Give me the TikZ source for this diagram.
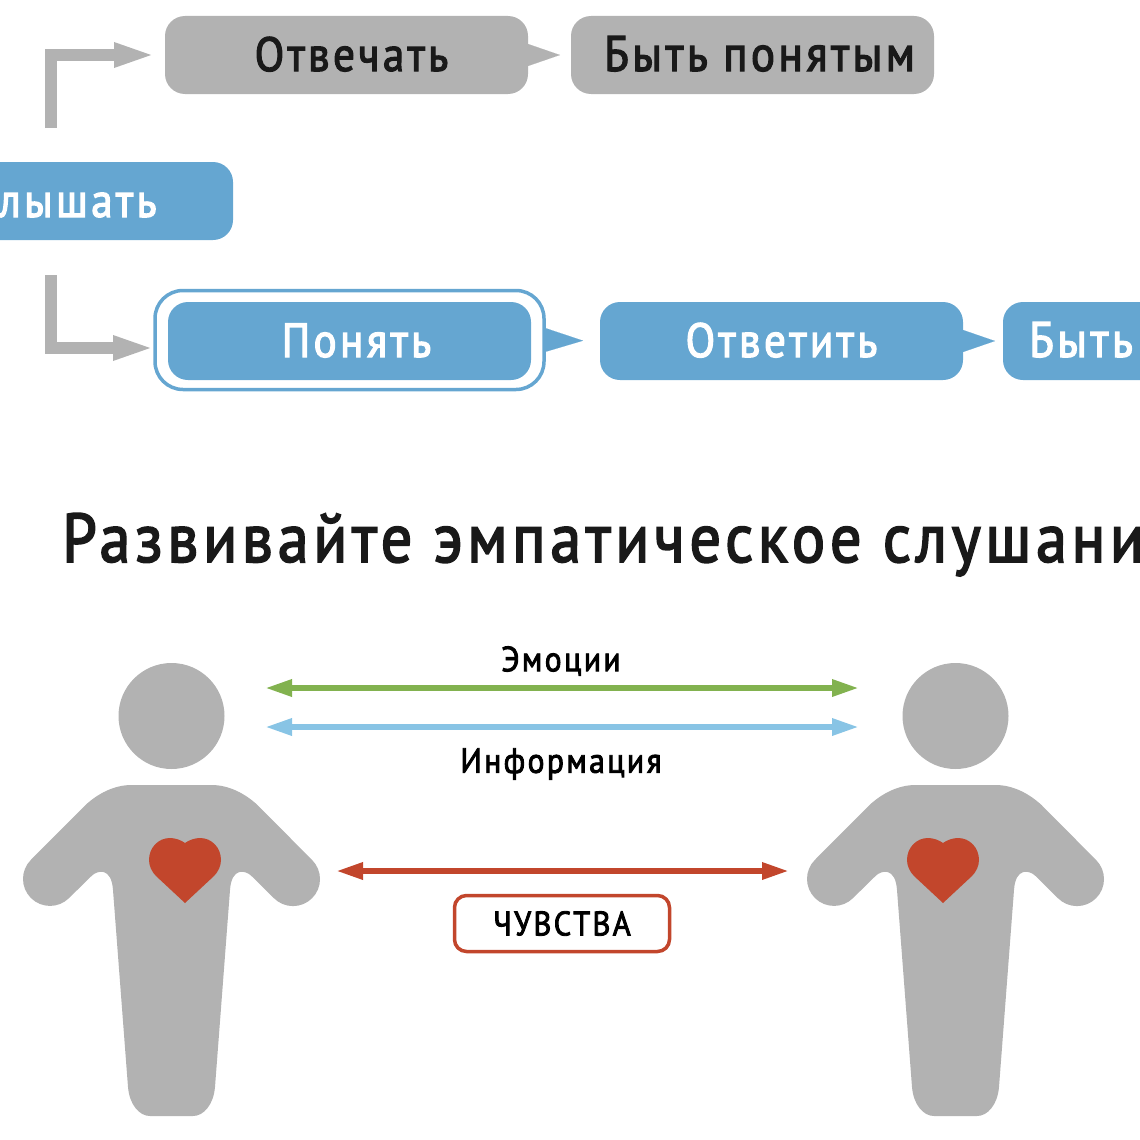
\documentclass[tikz,border=0pt]{standalone}
\usepackage{fontspec}
\setmainfont[FakeStretch=0.90,LetterSpace=7,FakeBold=2.5]{PT Sans}
\usetikzlibrary{arrows.meta}
\definecolor{boxgrey}{HTML}{B2B2B2}
\definecolor{boxblue}{HTML}{65A6D1}
\definecolor{arrgreen}{HTML}{82B24F}
\definecolor{arrsky}{HTML}{88C4E5}
\definecolor{arrred}{HTML}{C2462C}
\tikzset{
  stepbox/.style={rounded corners=20pt, minimum width=363pt, minimum height=78pt,
    inner sep=0pt, outer sep=0pt, text height=46pt, text depth=14pt,
    font=\fontsize{48}{48}\selectfont},
  greybox/.style={stepbox, fill=boxgrey, text=black!90},
  bluebox/.style={stepbox, fill=boxblue, text=white},
  elbow/.style={draw=boxgrey, line width=12pt, -{Triangle[length=42pt,width=22pt]}},
  link/.style={line width=0.1pt, -{Triangle[length=32pt,width=22pt]}},
  both/.style={line width=6pt, {Triangle[length=27pt,width=16pt]}-{Triangle[length=27pt,width=16pt]}},
  caption/.style={font=\fontsize{35}{35}\selectfont, inner sep=0pt},
  pics/person/.style={code={
    \fill[boxgrey] (0,-69) circle (53);
    \fill[boxgrey] (0,0) -- (40,0) .. controls (58,0) and (74,9) .. (86,20) -- (140.6,75)
      arc[start angle=-45, end angle=135, radius=27] -- (80,91)
      .. controls (74,85) and (60,82) .. (58.5,105) -- (43.5,302)
      .. controls (42,320) and (32,331) .. (21.5,331) -- (-21.5,331)
      .. controls (-32,331) and (-42,320) .. (-43.5,302) -- (-58.5,105)
      .. controls (-60,82) and (-74,85) .. (-80,91) -- (-102.4,113)
      arc[start angle=45, end angle=225, radius=27] -- (-86,20)
      .. controls (-74,9) and (-58,0) .. (-40,0) -- cycle;
  }},
  pics/heart/.style={code={
    \fill[arrred] (0,0) .. controls (4,-3) and (10,-5) .. (15,-5)
      .. controls (27,-5) and (36,5) .. (36,17) .. controls (36,23) and (33,29) .. (29,33)
      -- (0,60) -- (-29,33) .. controls (-33,29) and (-36,23) .. (-36,17)
      .. controls (-36,5) and (-27,-5) .. (-15,-5) .. controls (-10,-5) and (-4,-3) .. (0,0) -- cycle;
  }},
}
\begin{document}
\begin{tikzpicture}[x=1pt, y=-1pt]
  \useasboundingbox (0,0) rectangle (1140,1140);
  \clip (0,0) rectangle (1140,1140);

  \node[greybox] (answer) at (346.5,55) {\hspace*{10pt}Отвечать};
  \node[greybox, font=\fontsize{50}{50}\selectfont] (heardG) at (752.5,55) {\hspace*{14pt}Быть понятым};
  \node[bluebox] (hear) at (51.5,201) {\hspace*{26pt}Слышать};
  \node[bluebox] (grasp) at (349.5,341) {\hspace*{14pt}Понять};
  \node[draw=boxblue, line width=3.5pt, rounded corners=28pt, minimum width=389pt,
    minimum height=99pt, inner sep=0pt, outer sep=0pt] (graspFrame) at (349.5,340) {};
  \node[bluebox] (reply) at (781.5,341) {Ответить};
  \node[bluebox, font=\fontsize{50}{50}\selectfont] (heardB) at (1184.5,341) {Быть понятым};

  \coordinate (upFrom) at (51,128);
  \coordinate (downFrom) at (51,275);
  \draw[elbow, shorten >=9pt] (upFrom) |- (answer.west);
  \draw[elbow] (downFrom) |- ([yshift=-8pt]graspFrame.west);
  \draw[link, boxgrey, shorten >=11pt] (answer.east) -- (heardG.west);
  \draw[line width=0.1pt, -{Triangle[length=38pt,width=24pt]}, boxblue, shorten >=17pt] (graspFrame.east) -- (reply.west);
  \draw[link, boxblue, shorten >=8pt] (reply.east) -- (heardB.west);

  \node[anchor=base west, inner sep=0pt, font=\fontsize{69}{69}\selectfont, text=black!90] (title)
    at (62,562) {Развивайте эмпатическое слушание};

  \pic at (171.5,785) {person};
  \pic at (955.5,785) {person};
  \pic at (185,843) {heart};
  \pic at (943,843) {heart};

  \coordinate (emoL) at (265,688);
  \coordinate (emoR) at (859,688);
  \coordinate (infoL) at (265,727);
  \coordinate (infoR) at (859,727);
  \coordinate (feelL) at (336,871);
  \coordinate (feelR) at (789,871);
  \draw[both, arrgreen] (emoL) -- (emoR);
  \draw[both, arrsky] (infoL) -- (infoR);
  \draw[both, arrred] (feelL) -- (feelR);

  \node[caption] (emo) at (561,661) {Эмоции};
  \node[caption] (info) at (561,764) {Информация};
  \node[caption, font=\fontsize{34}{34}\selectfont, draw=arrred, line width=3.5pt, rounded corners=12pt,
    minimum width=215pt, minimum height=56pt] (feel) at (562,923.5) {ЧУВСТВА};
\end{tikzpicture}
\end{document}
